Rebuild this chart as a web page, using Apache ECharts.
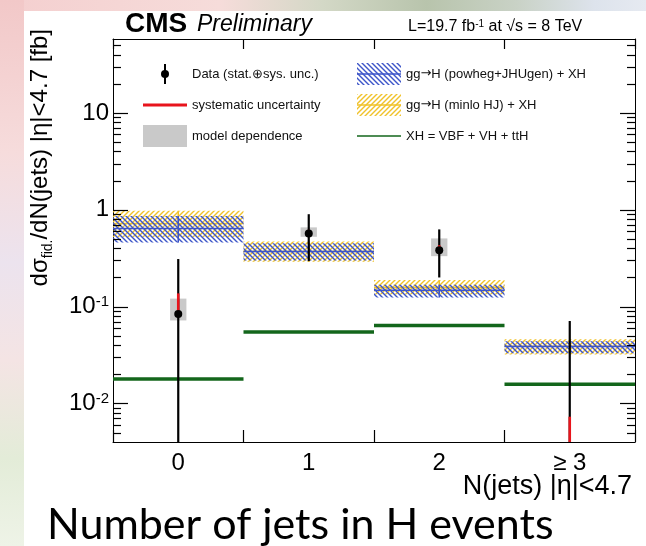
<!DOCTYPE html>
<html>
<head>
<meta charset="utf-8">
<script src="https://cdn.jsdelivr.net/npm/echarts@6/dist/echarts.min.js"></script>
<style>
  html, body { margin: 0; padding: 0; width: 646px; height: 546px; overflow: hidden; }
  #backdrop {
    position: absolute; left: 0; top: 0; width: 646px; height: 546px;
    background: linear-gradient(90deg, #f4cfcf 0%, #f6dcda 34%, #d3d8c6 50%, #b8c4ac 66%, #c9d2c6 80%, #dde3ec 92%, #e6eaf1 100%);
  }
  #strip {
    position: absolute; left: 0; top: 0; width: 24px; height: 546px;
    background: linear-gradient(180deg, #f2c8c8 0%, #f6dcdc 28%, #ece3ee 48%, #f4e4e4 66%, #e3ecd8 84%, #eef3e7 100%);
  }
  #panel { position: absolute; left: 24px; top: 11px; right: 0; bottom: 0; background: #fff; }
  #chart { position: absolute; left: 0; top: 0; width: 646px; height: 546px; }
</style>
</head>
<body>
<div id="backdrop"></div>
<div id="strip"></div>
<div id="panel"></div>
<div id="chart"></div>
<script>
// ---- values ----
const categories = ['0', '1', '2', '≥ 3'];

// gg→H (powheg+JHUgen) + XH
const powhegCentral = [0.64, 0.37, 0.148, 0.0387];
const powhegLow     = [0.46, 0.30, 0.124, 0.033];
const powhegHigh    = [0.86, 0.45, 0.168, 0.044];

// gg→H (minlo HJ) + XH
const minloCentral = [0.72, 0.37, 0.158, 0.039];
const minloLow     = [0.52, 0.29, 0.133, 0.032];
const minloHigh    = [0.98, 0.47, 0.188, 0.046];

// XH = VBF + VH + ttH
const xhValues = [0.0179, 0.0547, 0.064, 0.0158];

// measured cross sections with total uncertainty
const dataValues = [0.084, 0.57, 0.383, 0.003];
const dataLow    = [0.001, 0.295, 0.20, 0.001];
const dataHigh   = [0.31, 0.90, 0.627, 0.071];

// systematic part
const sysLow  = [0.078, 0.55, 0.37, 0.001];
const sysHigh = [0.137, 0.62, 0.43, 0.0073];

// model dependence
const modelLow  = [0.072, 0.526, 0.332, null];
const modelHigh = [0.121, 0.658, 0.506, null];

// y tick labels by decade exponent
const yTickExponents = [-2, -1, 0, 1];
const yTickLabels = ['10{e|-2}', '10{e|-1}', '1', '10'];

const yMin = 0.004, yMax = 58;

// ---- styling helpers ----
const FONT = '"Liberation Sans", Arial, Helvetica, sans-serif';
const BLUE = '#3d55c8';
const YELLOW = '#f0c22a';
const GREEN = '#13661b';
const RED = '#e8141c';
const GREY = '#c9c9c9';
const TICK = '#000';

function hatch(color, forward) {
  const s = 5;
  const c = document.createElement('canvas');
  c.width = s; c.height = s;
  const g = c.getContext('2d');
  g.strokeStyle = color;
  g.lineWidth = 1.4;
  g.beginPath();
  if (forward) { // "\\\\"
    g.moveTo(-1, -1); g.lineTo(s + 1, s + 1);
    g.moveTo(-1, s - 1); g.lineTo(1, s + 1);
    g.moveTo(s - 1, -1); g.lineTo(s + 1, 1);
  } else {       // "////"
    g.moveTo(-1, s + 1); g.lineTo(s + 1, -1);
    g.moveTo(-1, 1); g.lineTo(1, -1);
    g.moveTo(s - 1, s + 1); g.lineTo(s + 1, s - 1);
  }
  g.stroke();
  return c;
}
const blueHatch = hatch(BLUE, true);
const yellowHatch = hatch(YELLOW, false);

function icon(draw) {
  const c = document.createElement('canvas');
  c.width = 44; c.height = 22;
  const g = c.getContext('2d');
  draw(g, 44, 22);
  return 'image://' + c.toDataURL();
}
const iconData = icon((g, w, h) => {
  g.strokeStyle = '#000'; g.lineWidth = 2;
  g.beginPath(); g.moveTo(w / 2, 1); g.lineTo(w / 2, h - 1); g.stroke();
  g.fillStyle = '#000'; g.beginPath(); g.arc(w / 2, h / 2, 4, 0, Math.PI * 2); g.fill();
});
const iconSys = icon((g, w, h) => {
  g.strokeStyle = RED; g.lineWidth = 3;
  g.beginPath(); g.moveTo(0, h / 2); g.lineTo(w, h / 2); g.stroke();
});
const iconModel = icon((g, w, h) => { g.fillStyle = GREY; g.fillRect(0, 0, w, h); });
function iconBand(pat, color) {
  return icon((g, w, h) => {
    g.fillStyle = g.createPattern(pat, 'repeat'); g.fillRect(0, 0, w, h);
    g.strokeStyle = color; g.lineWidth = 1.5;
    g.beginPath(); g.moveTo(0, h / 2); g.lineTo(w, h / 2); g.stroke();
  });
}
const iconPowheg = iconBand(blueHatch, BLUE);
const iconMinlo = iconBand(yellowHatch, YELLOW);
const iconXH = icon((g, w, h) => {
  g.strokeStyle = GREEN; g.lineWidth = 1.5;
  g.beginPath(); g.moveTo(0, h / 2); g.lineTo(w, h / 2); g.stroke();
});

// y ticks: decades (long) and 2..9 × 10^k (short) inside the range
const yTicks = [];
for (let k = -3; k <= 1; k++) {
  for (let m = 1; m <= 9; m++) {
    const v = m * Math.pow(10, k);
    if (v > yMin && v < yMax) yTicks.push([0, v, m === 1 ? 15 : 8]);
  }
}

// ---- render functions ----
function bandItem(fillImage, lineColor) {
  return function (params, api) {
    const i = api.value(0);
    const w = api.size([1, 0])[0];
    const lo = api.coord([i, api.value(1)]);
    const hi = api.coord([i, api.value(2)]);
    const mid = api.coord([i, api.value(3)]);
    const x0 = mid[0] - w / 2;
    return {
      type: 'group',
      children: [
        { type: 'rect', shape: { x: x0, y: hi[1], width: w, height: lo[1] - hi[1] },
          style: { fill: { image: fillImage, repeat: 'repeat' } } },
        { type: 'line', shape: { x1: x0, y1: mid[1], x2: x0 + w, y2: mid[1] },
          style: { stroke: lineColor, lineWidth: 1.5 } },
        { type: 'line', shape: { x1: mid[0], y1: hi[1], x2: mid[0], y2: lo[1] },
          style: { stroke: lineColor, lineWidth: 1.5 } }
      ]
    };
  };
}

function stepItem(params, api) {
  const i = api.value(0);
  const w = api.size([1, 0])[0];
  const p = api.coord([i, api.value(1)]);
  return { type: 'line', shape: { x1: p[0] - w / 2, y1: p[1], x2: p[0] + w / 2, y2: p[1] },
           style: { stroke: GREEN, lineWidth: 3.5 } };
}

function boxItem(params, api) {
  const i = api.value(0);
  const w = api.size([1, 0])[0] * 0.125;
  const lo = api.coord([i, api.value(1)]);
  const hi = api.coord([i, api.value(2)]);
  return { type: 'rect', shape: { x: lo[0] - w / 2, y: hi[1], width: w, height: lo[1] - hi[1] },
           style: { fill: GREY } };
}

function barItem(color, width) {
  return function (params, api) {
    const i = api.value(0);
    const lo = api.coord([i, api.value(1)]);
    const hi = api.coord([i, api.value(2)]);
    return { type: 'line', shape: { x1: lo[0], y1: lo[1], x2: hi[0], y2: hi[1] },
             style: { stroke: color, lineWidth: width } };
  };
}

function markerItem(params, api) {
  const p = api.coord([api.value(0), api.value(1)]);
  return { type: 'circle', shape: { cx: p[0], cy: p[1], r: 4 }, style: { fill: '#000' } };
}

// ticks on the left and right frame edges
function yTickItem(params, api) {
  const cs = params.coordSys;
  const y = Math.round(api.coord([0, api.value(1)])[1]) + 0.5;
  const len = api.value(2);
  return {
    type: 'group',
    children: [
      { type: 'line', shape: { x1: cs.x, y1: y, x2: cs.x + len, y2: y }, style: { stroke: TICK, lineWidth: 1.2 } },
      { type: 'line', shape: { x1: cs.x + cs.width - len, y1: y, x2: cs.x + cs.width, y2: y }, style: { stroke: TICK, lineWidth: 1.2 } }
    ]
  };
}

const bandData = (lo, hi, c) => categories.map((_, i) => [i, lo[i], hi[i], c[i]]);
const pairData = (lo, hi) => categories.map((_, i) => [i, lo[i], hi[i]]).filter(d => d[1] != null);

const NAME_DATA = 'Data (stat.⊕sys. unc.)';
const NAME_SYS = 'systematic uncertainty';
const NAME_MODEL = 'model dependence';
const NAME_POWHEG = 'gg→H (powheg+JHUgen) + XH';
const NAME_MINLO = 'gg→H (minlo HJ) + XH';
const NAME_XH = 'XH = VBF + VH + ttH';

const frameAxis = { show: true, lineStyle: { color: '#000', width: 1 } };
const legendText = {
  fontSize: 13, color: '#111', fontFamily: FONT,
  rich: { a: { fontSize: 13, color: '#111', fontFamily: '"DejaVu Sans", sans-serif' } }
};
const legendFormatter = name => name.replace('→', '{a|→}');

const chart = echarts.init(document.getElementById('chart'), null, { renderer: 'canvas' });
chart.setOption({
  animation: false,
  backgroundColor: 'transparent',
  textStyle: { fontFamily: FONT },
  grid: { left: 113, right: 11, top: 39, bottom: 104 },
  legend: [
    {
      left: 138, top: 58, orient: 'vertical', itemWidth: 44, itemHeight: 22, itemGap: 9,
      selectedMode: false, textStyle: legendText, formatter: legendFormatter,
      data: [
        { name: NAME_DATA, icon: iconData },
        { name: NAME_SYS, icon: iconSys },
        { name: NAME_MODEL, icon: iconModel }
      ]
    },
    {
      left: 352, top: 58, orient: 'vertical', itemWidth: 44, itemHeight: 22, itemGap: 9,
      selectedMode: false, textStyle: legendText, formatter: legendFormatter,
      data: [
        { name: NAME_POWHEG, icon: iconPowheg },
        { name: NAME_MINLO, icon: iconMinlo },
        { name: NAME_XH, icon: iconXH }
      ]
    }
  ],
  xAxis: [
    {
      type: 'category', data: categories, position: 'bottom', boundaryGap: true,
      axisLine: frameAxis,
      axisTick: { show: true, inside: true, length: 12, interval: 0, lineStyle: { color: TICK, width: 1.2 } },
      axisLabel: { interval: 0, margin: 9, color: '#000', fontSize: 24, fontFamily: FONT },
      splitLine: { show: false }
    },
    {
      type: 'category', data: categories, position: 'top', boundaryGap: true,
      axisLine: frameAxis,
      axisTick: { show: true, inside: true, length: 10, interval: 0, lineStyle: { color: TICK, width: 1.2 } },
      axisLabel: { show: false },
      splitLine: { show: false }
    }
  ],
  yAxis: [
    {
      type: 'log', logBase: 10, min: yMin, max: yMax, position: 'left',
      axisLine: frameAxis,
      axisTick: { show: false },
      axisLabel: {
        margin: 4, color: '#000', fontSize: 24, fontFamily: FONT,
        showMinLabel: false, showMaxLabel: false,
        formatter: function (v) {
          const lg = Math.log10(v);
          const e = Math.round(lg);
          if (Math.abs(lg - e) > 1e-6) return '';
          const idx = yTickExponents.indexOf(e);
          return idx < 0 ? '' : yTickLabels[idx];
        },
        rich: { e: { fontSize: 15, verticalAlign: 'top', lineHeight: 14, color: '#000', fontFamily: FONT } }
      },
      splitLine: { show: false }
    },
    {
      type: 'log', logBase: 10, min: yMin, max: yMax, position: 'right',
      axisLine: frameAxis,
      axisTick: { show: false },
      axisLabel: { show: false },
      splitLine: { show: false }
    }
  ],
  series: [
    { type: 'custom', name: NAME_MINLO, z: 1, renderItem: bandItem(yellowHatch, YELLOW),
      data: bandData(minloLow, minloHigh, minloCentral), encode: { x: 0, y: [1, 2, 3] } },
    { type: 'custom', name: NAME_POWHEG, z: 1, renderItem: bandItem(blueHatch, BLUE),
      data: bandData(powhegLow, powhegHigh, powhegCentral), encode: { x: 0, y: [1, 2, 3] } },
    { type: 'custom', name: NAME_XH, z: 2, renderItem: stepItem,
      data: categories.map((_, i) => [i, xhValues[i]]), encode: { x: 0, y: 1 } },
    { type: 'custom', name: NAME_MODEL, z: 2, renderItem: boxItem,
      data: pairData(modelLow, modelHigh), encode: { x: 0, y: [1, 2] } },
    { type: 'custom', name: NAME_DATA, z: 3, clip: true, renderItem: barItem('#000', 2.2),
      data: pairData(dataLow, dataHigh), encode: { x: 0, y: [1, 2] } },
    { type: 'custom', name: NAME_SYS, z: 4, clip: true, renderItem: barItem(RED, 2.6),
      data: pairData(sysLow, sysHigh), encode: { x: 0, y: [1, 2] } },
    { type: 'custom', name: NAME_DATA, z: 5, clip: true, renderItem: markerItem,
      data: categories.map((_, i) => [i, dataValues[i]]), encode: { x: 0, y: 1 } },
    { type: 'custom', name: 'y ticks', z: 6, silent: true, renderItem: yTickItem,
      data: yTicks, encode: { x: 0, y: 1 } }
  ],
  graphic: [
    { type: 'text', x: 125, y: 24, silent: true,
      style: { text: 'CMS', fontSize: 28, fontWeight: 'bold', fontFamily: FONT, fill: '#000', verticalAlign: 'middle' } },
    { type: 'text', x: 197, y: 25, silent: true,
      style: { text: 'Preliminary', fontSize: 23, fontStyle: 'italic', fontFamily: FONT, fill: '#000', verticalAlign: 'middle' } },
    { type: 'text', x: 408, y: 27, silent: true,
      style: { text: 'L=19.7 fb{e|-1} at √s = 8 TeV', fontSize: 16, fontFamily: FONT, fill: '#000', verticalAlign: 'middle',
               rich: { e: { fontSize: 10, verticalAlign: 'top', lineHeight: 10, fill: '#000', fontFamily: FONT } } } },
    { type: 'text', x: 40, y: 29, rotation: Math.PI / 2, silent: true,
      style: { text: '{m|dσ}{s|fid.}{m|/dN(jets) |η|<4.7 [fb]}', align: 'right', verticalAlign: 'middle',
               rich: { m: { fontSize: 24, lineHeight: 30, fill: '#000', fontFamily: FONT },
                       s: { fontSize: 14, lineHeight: 14, verticalAlign: 'bottom', fill: '#000', fontFamily: FONT } } } },
    { type: 'text', x: 632, y: 487, silent: true,
      style: { text: 'N(jets) |η|<4.7', fontSize: 27, fontFamily: FONT, fill: '#000', align: 'right', verticalAlign: 'middle' } },
    { type: 'text', x: 47, y: 525, silent: true,
      style: { text: 'Number of jets in H events', fontSize: 43, fontFamily: 'Lato, "Open Sans", sans-serif', fill: '#000', verticalAlign: 'middle' } }
  ]
});
</script>
</body>
</html>
